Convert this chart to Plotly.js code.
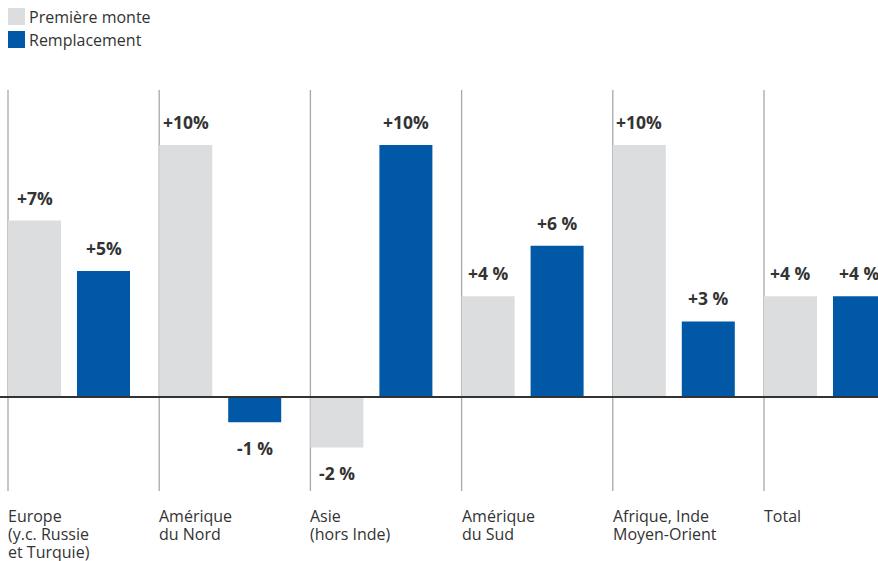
<!DOCTYPE html>
<html><head><meta charset="utf-8">
<script src="https://cdn.plot.ly/plotly-3.0.1.min.js"></script>
<style>html,body{margin:0;padding:0;background:#fff}#chart{width:878px;height:561px}</style>
</head><body><div id="chart"></div>
<script>
const categories = ["Europe<br>(y.c. Russie<br>et Turquie)", "Amérique<br>du Nord", "Asie<br>(hors Inde)", "Amérique<br>du Sud", "Afrique, Inde<br>Moyen-Orient", "Total"];
const premiereMonte = [7, 10, -2, 4, 10, 4];
const remplacement = [5, -1, 10, 6, 3, 4];
const premiereLabels = ["+7%", "+10%", "-2 %", "+4 %", "+10%", "+4 %"];
const remplLabels = ["+5%", "-1 %", "+10%", "+6 %", "+3 %", "+4 %"];
const seriesNames = ["Première monte", "Remplacement"];
const colors = ["#dcdddf", "#0058a6"];

const W = 878, H = 561;
const groupPx = 151.2, x0px = 8, zeroPx = 397, unitPx = 25.2;
const xr = [-x0px / groupPx, (W - x0px) / groupPx];
const yr = [-(H - zeroPx) / unitPx, zeroPx / unitPx];
const bw = 53 / groupPx, off2 = 69 / groupPx;
const xs = categories.map((_, i) => i);
const font = "'Open Sans', 'Noto Sans', sans-serif";

const traces = [
  {type: 'bar', x: xs, y: premiereMonte, name: seriesNames[0], marker: {color: colors[0]}, width: bw, offset: 0, hoverinfo: 'skip'},
  {type: 'bar', x: xs, y: remplacement, name: seriesNames[1], marker: {color: colors[1]}, width: bw, offset: off2, hoverinfo: 'skip'}
];

const shapes = [];
const annotations = [];
xs.forEach(i => {
  shapes.push({type: 'line', xref: 'x', yref: 'y', x0: i, x1: i, y0: -(491 - zeroPx) / unitPx, y1: (zeroPx - 90) / unitPx, line: {color: '#a8a8a8', width: 1.3}, layer: 'below'});
  categories[i].split('<br>').forEach((line, k) => {
    annotations.push({xref: 'x', yref: 'paper', x: i, y: 1 - (516 + 18 * k) / H, xanchor: 'left', yanchor: 'middle', align: 'left', showarrow: false, text: line, xshift: -2, font: {family: font, size: 16, color: '#333'}});
  });
});
function valLabel(x, v, t) {
  annotations.push({xref: 'x', yref: 'y', x: x, y: v, showarrow: false, text: '<b>' + t + '</b>', xanchor: 'center', yanchor: v >= 0 ? 'bottom' : 'top', yshift: v >= 0 ? 9 : -12, font: {family: font, size: 17.5, color: '#333'}});
}
xs.forEach(i => {
  valLabel(i + bw / 2, premiereMonte[i], premiereLabels[i]);
  valLabel(i + off2 + bw / 2, remplacement[i], remplLabels[i]);
});
shapes.push({type: 'line', xref: 'x', yref: 'y', x0: xr[0], x1: xr[1], y0: 0, y1: 0, line: {color: '#333', width: 2}});
// legend
seriesNames.forEach((n, k) => {
  const top = 8 + k * 23;
  shapes.push({type: 'rect', xref: 'paper', yref: 'paper', x0: 8 / W, x1: 25 / W, y0: 1 - (top + 17) / H, y1: 1 - top / H, fillcolor: colors[k], line: {width: 0}});
  annotations.push({xref: 'paper', yref: 'paper', x: 27 / W, y: 1 - (top + 8.5) / H, xanchor: 'left', yanchor: 'middle', showarrow: false, text: n, font: {family: font, size: 16, color: '#333'}});
});

Plotly.newPlot('chart', traces, {
  width: W, height: H,
  margin: {l: 0, r: 0, t: 0, b: 0},
  paper_bgcolor: '#fff', plot_bgcolor: '#fff',
  showlegend: false,
  barmode: 'overlay',
  xaxis: {range: xr, visible: false, fixedrange: true},
  yaxis: {range: yr, visible: false, fixedrange: true, zeroline: false},
  shapes: shapes, annotations: annotations
}, {staticPlot: true});
</script></body></html>
